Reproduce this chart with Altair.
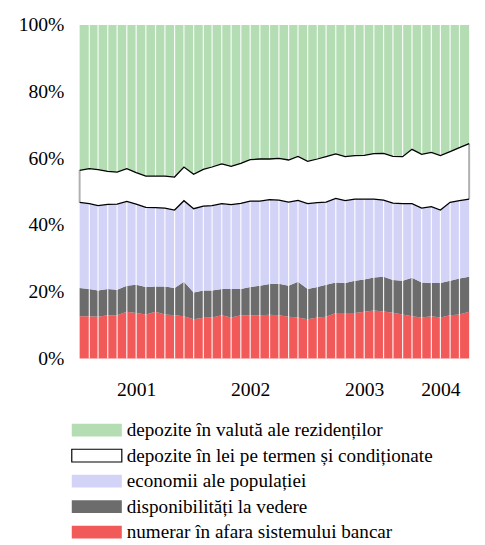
import altair as alt
import pandas as pd

# Monthly observations, Jan 2001 – Jun 2004 (shares in %)
months = pd.date_range("2001-01-01", periods=42, freq="MS")

numerar = [12.7, 12.7, 12.5, 13.0, 13.0, 14.0, 13.6, 13.2, 14.0, 13.2,
           13.0, 12.7, 11.8, 12.2, 12.3, 13.0, 12.3, 13.0, 13.0, 13.0,
           13.1, 13.0, 12.5, 12.3, 11.8, 12.3, 12.5, 13.6, 13.6, 13.6,
           14.0, 14.4, 14.1, 13.7, 13.2, 12.7, 12.3, 12.7, 12.3, 13.0,
           13.2, 14.0]
disponibil = [8.4, 8.1, 7.9, 7.8, 7.6, 7.8, 8.5, 8.2, 7.6, 8.4,
              8.1, 10.3, 8.0, 8.2, 8.1, 7.8, 8.5, 7.8, 8.4, 8.8,
              9.2, 9.4, 9.3, 10.7, 9.0, 9.1, 9.6, 9.2, 9.0, 9.7,
              9.7, 9.9, 10.4, 9.8, 10.1, 11.5, 10.5, 9.9, 10.3, 10.3,
              10.8, 10.5]
economii = [25.7, 25.6, 25.4, 25.4, 25.7, 25.3, 24.2, 23.9, 23.6, 23.5,
            23.4, 24.3, 25.1, 25.3, 25.4, 25.6, 25.3, 25.7, 25.8, 25.4,
            25.3, 25.1, 25.1, 24.4, 25.6, 25.3, 24.8, 25.2, 24.7, 24.5,
            24.1, 23.5, 23.0, 23.1, 23.1, 22.2, 22.3, 22.9, 21.9, 23.5,
            23.3, 23.3]
lei = [9.6, 10.5, 10.8, 9.9, 9.6, 9.8, 9.4, 9.4, 9.5, 9.6,
       9.9, 10.1, 10.3, 11.0, 11.6, 11.9, 11.5, 12.0, 12.4, 12.6,
       12.2, 12.5, 12.6, 13.2, 12.7, 13.1, 13.6, 13.3, 13.2, 13.0,
       13.1, 13.6, 14.0, 14.0, 14.1, 16.3, 16.1, 16.3, 16.3, 15.2,
       15.9, 16.6]
valuta = [43.6, 43.1, 43.4, 43.9, 44.1, 43.1, 44.3, 45.3, 45.3, 45.3,
          45.6, 42.6, 44.8, 43.3, 42.6, 41.7, 42.4, 41.5, 40.4, 40.2,
          40.2, 40.0, 40.5, 39.4, 40.9, 40.2, 39.5, 38.7, 39.5, 39.2,
          39.1, 38.6, 38.5, 39.4, 39.5, 37.3, 38.8, 38.2, 39.2, 38.0,
          36.8, 35.6]

# stacking order, bottom to top
series_names = [
    "numerar în afara sistemului bancar",
    "disponibilități la vedere",
    "economii ale populației",
    "depozite în lei pe termen și condiționate",
    "depozite în valută ale rezidenților",
]
series_values = [numerar, disponibil, economii, lei, valuta]
series_colors = ["#f25a5a", "#6c6c6c", "#d3d3f7", "#ffffff", "#b4ddb4"]
series_strokes = ["transparent", "transparent", "transparent", "black", "transparent"]
legend_order = series_names[::-1]

year_labels = ["2001", "2002", "2003", "2004"]
year_label_months = ["2001-07-01", "2002-07-01", "2003-07-01", "2004-03-01"]

FONT = "Liberation Serif"

# ---- tables built from the arrays ----
rows = []
for k, (name, vals) in enumerate(zip(series_names, series_values)):
    for d, v in zip(months, vals):
        rows.append({"date": d, "series": name, "value": v, "ord": k})
df = pd.DataFrame(rows)

wide = pd.DataFrame({"date": months})
for name, vals in zip(series_names, series_values):
    wide[name] = vals
total = wide[series_names].sum(axis=1)
lower = (wide[series_names[0]] + wide[series_names[1]] + wide[series_names[2]]) / total
upper = lower + wide[series_names[3]] / total
lines_df = pd.concat([
    pd.DataFrame({"date": months, "frac": lower, "b": "lower"}),
    pd.DataFrame({"date": months, "frac": upper, "b": "upper"}),
])
edges_df = pd.DataFrame({"date": months, "lo": lower, "hi": upper}).iloc[[0, -1]]
sep_df = pd.DataFrame({"date": months[1:-1]})

x_scale = alt.Scale(domain=[months[0].isoformat(), months[-1].isoformat()], nice=False)
y_scale = alt.Scale(domain=[0, 1], nice=False)
fill_scale = alt.Scale(domain=series_names, range=series_colors)

x_axis = alt.Axis(values=[pd.Timestamp(s).isoformat() for s in year_label_months],
                  format="%Y", ticks=False, domain=False, grid=False, title=None,
                  labelPadding=22, labelFontSize=20, labelFont=FONT,
                  labelColor="black", labelAngle=0)
y_axis = alt.Axis(format=".0%", values=[0, 0.2, 0.4, 0.6, 0.8, 1.0], title=None,
                  ticks=False, domain=False, grid=False, labelPadding=16,
                  labelFontSize=20, labelFont=FONT, labelColor="black")

area = alt.Chart(df).mark_area(interpolate="linear").encode(
    x=alt.X("date:T", scale=x_scale, axis=x_axis),
    y=alt.Y("value:Q", stack="normalize", scale=y_scale, axis=y_axis),
    fill=alt.Fill("series:N", scale=fill_scale, legend=None),
    order=alt.Order("ord:Q"),
)

separators = alt.Chart(sep_df).mark_rule(color="white", strokeWidth=1.2, opacity=0.9).encode(
    x=alt.X("date:T", scale=x_scale, axis=x_axis),
)

edges = alt.Chart(edges_df).mark_rule(color="#b0b0b0", strokeWidth=2).encode(
    x=alt.X("date:T", scale=x_scale, axis=x_axis),
    y=alt.Y("lo:Q", scale=y_scale, axis=y_axis),
    y2="hi:Q",
)

bounds = alt.Chart(lines_df).mark_line(color="black", strokeWidth=1.3).encode(
    x=alt.X("date:T", scale=x_scale, axis=x_axis),
    y=alt.Y("frac:Q", scale=y_scale, axis=y_axis),
    detail="b:N",
)

main = alt.layer(area, separators, edges, bounds).properties(width=397, height=340)

leg_df = pd.DataFrame({"series": legend_order})
leg_base = alt.Chart(leg_df).encode(
    y=alt.Y("series:N", sort=legend_order, axis=None,
            scale=alt.Scale(paddingInner=0, paddingOuter=0)),
)
swatch = leg_base.mark_bar(height=13, strokeWidth=1.2).encode(
    x=alt.value(-8), x2=alt.value(43),
    fill=alt.Fill("series:N", scale=fill_scale, legend=None),
    stroke=alt.Stroke("series:N", scale=alt.Scale(domain=series_names, range=series_strokes),
                      legend=None),
)
label = leg_base.mark_text(align="left", baseline="middle", font=FONT, fontSize=19.5,
                           color="black").encode(
    x=alt.value(48), text="series:N",
)
legend = alt.layer(swatch, label).properties(width=397, height=130)

chart = alt.vconcat(main, legend, spacing=18).properties(
    padding={"left": 10, "top": 2, "right": 5, "bottom": 2},
    background="white",
).configure_view(stroke=None)

chart.save("out.html", embed_options={"renderer": "svg", "actions": False})
